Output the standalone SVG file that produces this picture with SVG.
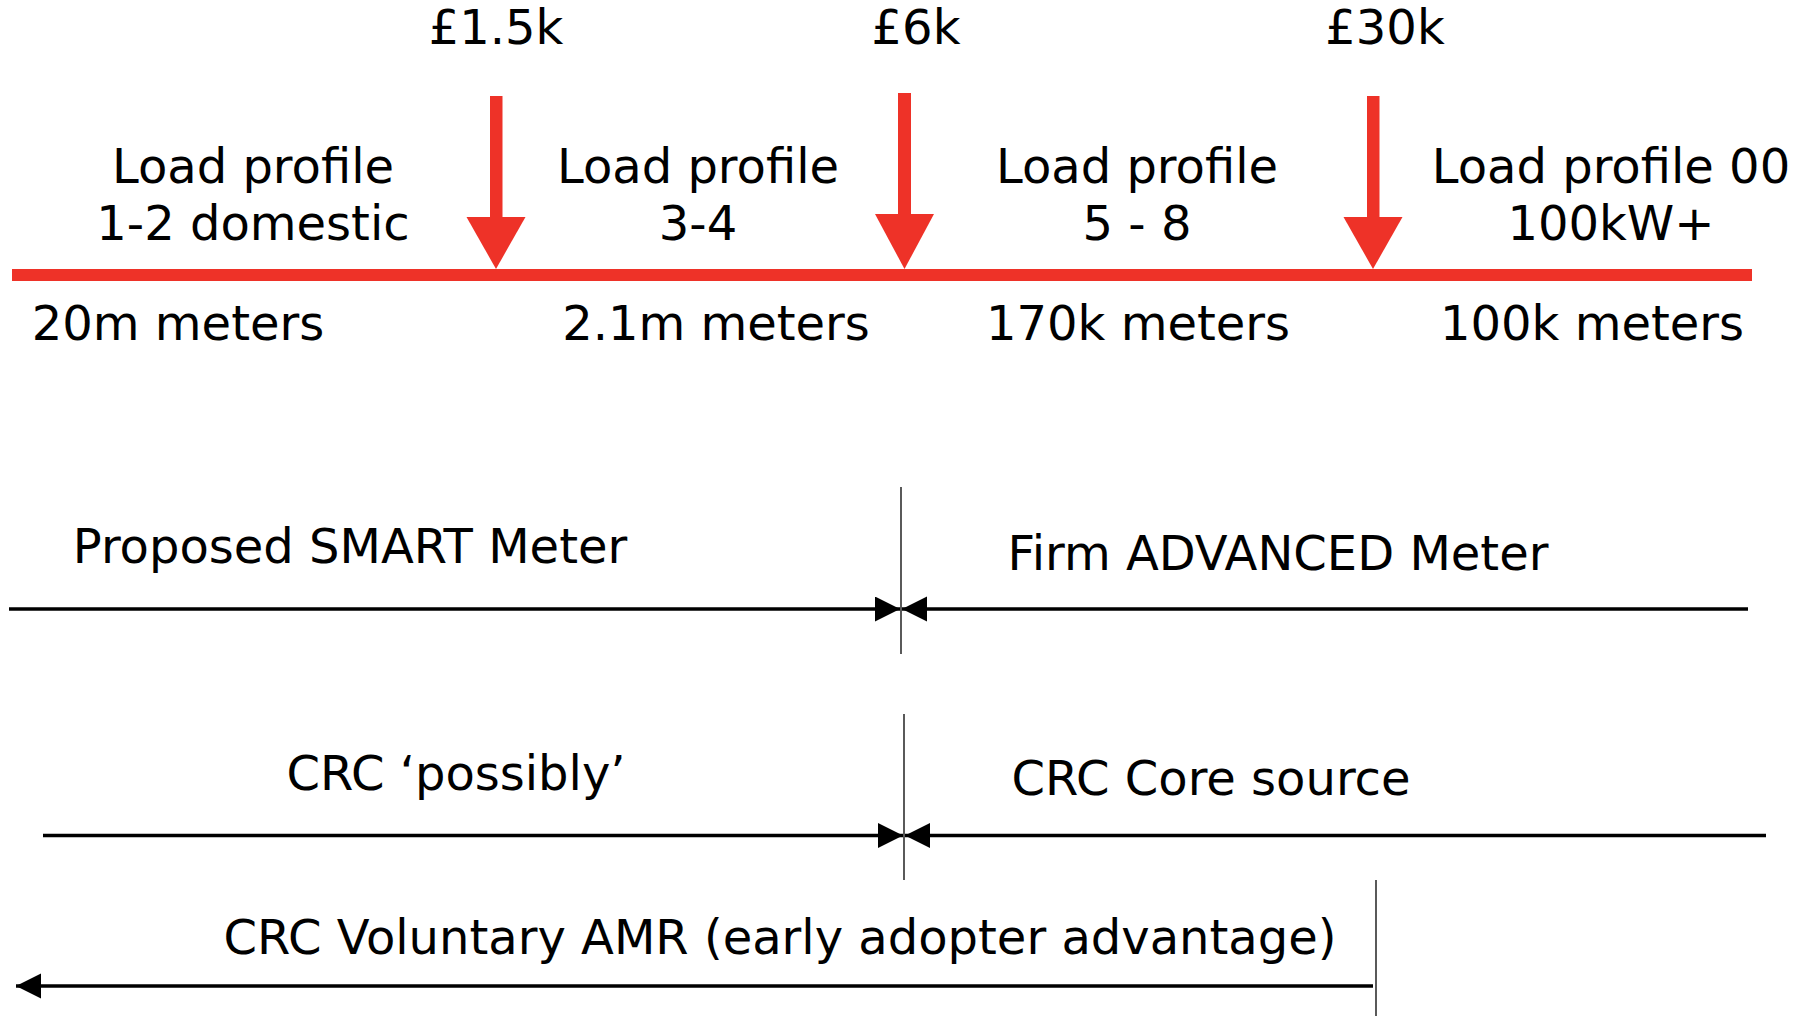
<svg xmlns="http://www.w3.org/2000/svg" width="1810" height="1016" viewBox="0 0 1810 1016">
<style>
text{font-family:"DejaVu Sans","Verdana",sans-serif;font-size:48px;fill:#000;text-anchor:middle}
.red{fill:#ee3228}
.blk{stroke:#000;stroke-width:3.5;fill:none}
.div{stroke:#000;stroke-width:1.3}
</style>
<defs>
<marker id="ah" markerUnits="userSpaceOnUse" markerWidth="26" markerHeight="26" refX="25" refY="12.5" orient="auto" viewBox="0 0 26 26">
<path d="M0,0 L25,12.5 L0,25 z" fill="#000"/>
</marker>
</defs>
<rect width="1810" height="1016" fill="#fff"/>

<g id="timeline">
<rect class="red" x="12" y="269" width="1740" height="12"/>
</g>
<g id="arrow-1500">
<rect class="red" x="490" y="96" width="12.5" height="122"/>
<polygon class="red" points="466.5,217 525.5,217 496,269"/>
<text x="496" y="44">£1.5k</text>
</g>
<g id="arrow-6000">
<rect class="red" x="898" y="93" width="13" height="122"/>
<polygon class="red" points="875,214 934,214 904.5,269"/>
<text x="916" y="44">£6k</text>
</g>
<g id="arrow-30000">
<rect class="red" x="1367" y="96" width="12.5" height="122"/>
<polygon class="red" points="1343.5,217 1402.5,217 1373,269"/>
<text x="1385" y="44">£30k</text>
</g>

<g id="lp12">
<text x="253" y="183">Load profile</text>
<text x="253" y="240">1-2 domestic</text>
<text x="178" y="340">20m meters</text>
</g>
<g id="lp34">
<text x="698" y="183">Load profile</text>
<text x="698" y="240">3-4</text>
<text x="716" y="340">2.1m meters</text>
</g>
<g id="lp58">
<text x="1137" y="183">Load profile</text>
<text x="1137" y="240">5 - 8</text>
<text x="1138" y="340">170k meters</text>
</g>
<g id="lp00">
<text x="1611" y="183">Load profile 00</text>
<text x="1611" y="240">100kW+</text>
<text x="1592" y="340">100k meters</text>
</g>

<g id="smart"><text x="350" y="563">Proposed SMART Meter</text></g>
<g id="advanced"><text x="1278" y="570">Firm ADVANCED Meter</text></g>
<g id="crc-possibly"><text x="456" y="790">CRC ‘possibly’</text></g>
<g id="crc-core"><text x="1211" y="795">CRC Core source</text></g>
<g id="crc-voluntary"><text x="780" y="954">CRC Voluntary AMR (early adopter advantage)</text></g>

<g id="connectors">
<line class="div" x1="901" y1="487" x2="901" y2="654"/>
<line class="div" x1="904" y1="714" x2="904" y2="880"/>
<line class="div" x1="1376" y1="880" x2="1376" y2="1016"/>
<line class="blk" x1="9" y1="609" x2="900" y2="609" marker-end="url(#ah)"/>
<line class="blk" x1="1748" y1="609" x2="902" y2="609" marker-end="url(#ah)"/>
<line class="blk" x1="43" y1="835.5" x2="903" y2="835.5" marker-end="url(#ah)"/>
<line class="blk" x1="1766" y1="835.5" x2="905" y2="835.5" marker-end="url(#ah)"/>
<line class="blk" x1="1373" y1="986" x2="16" y2="986" marker-end="url(#ah)"/>
</g>
</svg>
